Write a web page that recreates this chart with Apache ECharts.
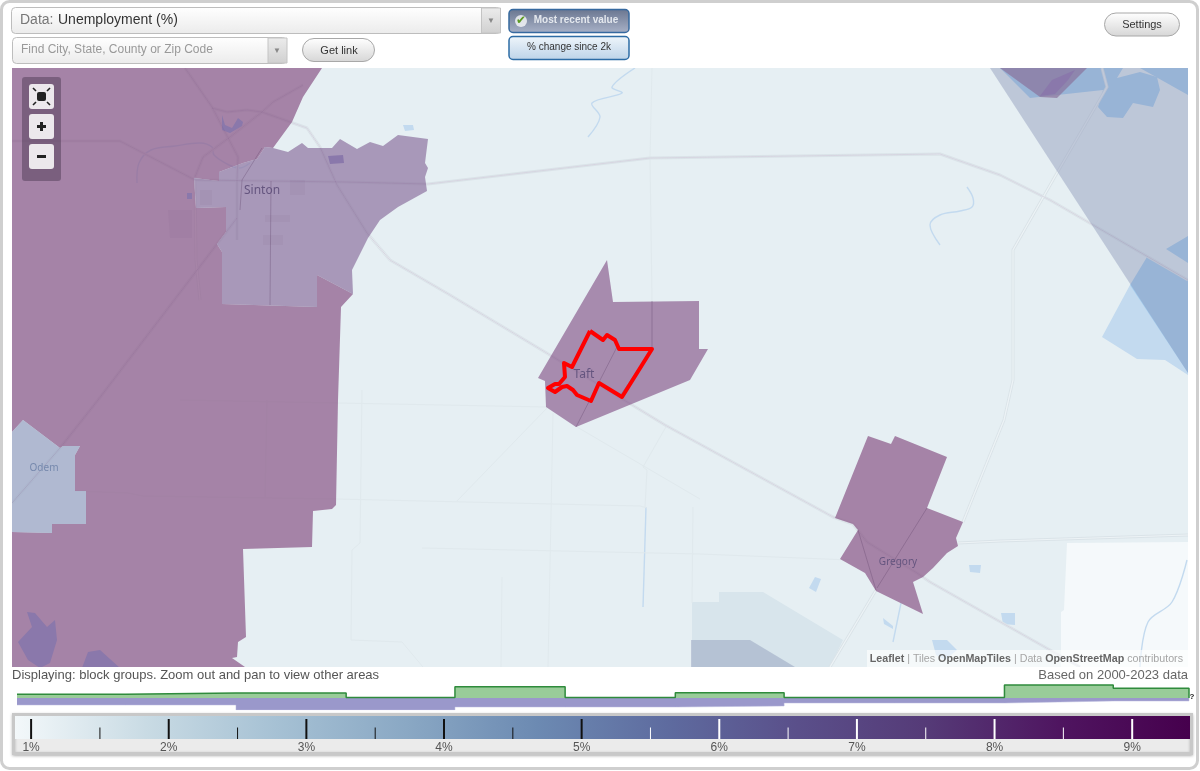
<!DOCTYPE html>
<html><head><meta charset="utf-8">
<style>html,body{margin:0;padding:0;background:#fff;overflow:hidden}#c{width:1200px;height:771px}</style>
<script src="https://cdn.jsdelivr.net/npm/echarts@6/dist/echarts.min.js"></script>
</head><body><div id="c"></div>
<script>
// ---------- values: histogram + colour scale ----------
const binEdges = [0.90,1.69,2.49,3.29,4.08,4.88,5.68,6.47,7.27,8.07,8.86,9.41];
const areaShare = [3.7,5,5,0.6,11.3,0.6,5.3,0.6,0.6,13,9.7];
const populationShare = [7,7,12,12,9,9,8,5,5,3,3];
const majorTicks = [1,2,3,4,5,6,7,8,9];
const minorTicks = [1.5,2.5,3.5,4.5,5.5,6.5,7.5,8.5];
const rampColors = ['#f3f8fa','#c9dbe4','#a6c1d4','#8aa8c4','#6c8ab2','#5e6b9f','#5a4f8a','#553a77','#4f1560','#46004d'];
const placeNames = ['Sinton','Taft','Gregory','Odem'];
const placePoints = [[262,191],[584,375],[898,562],[44,468]];

// ---------- map geometry, in map units ----------
const paleTract = [[1067,543],[1188,542],[1188,667],[1061,667],[1061,612],[1064,610]];
const coastPale = [[692,602],[719,602],[719,592],[763,592],[843,640],[830,667],[692,667]];
const lightBay = [[1130,285],[1102,337],[1137,359],[1165,360],[1188,375],[1188,330]];
const waterA = [[1000,68],[1030,98],[1103,90],[1098,107],[1107,117],[1123,118],[1133,103],[1153,107],[1160,90],[1157,77],[1140,72],[1117,78],[1123,68]];
const waterB = [[1140,68],[1188,95],[1188,68]];
const waterC = [[1147,257],[1188,279],[1188,373],[1130,285]];
const waterD = [[1166,249],[1188,236],[1188,263]];
const pond1 = [[403,125],[413,125],[414,130],[405,131]];
const pond2 = [[969,565],[981,565],[980,573],[970,572]];
const pond3 = [[1001,613],[1015,613],[1015,625],[1003,624]];
const pond4 = [[809,588],[815,577],[821,579],[816,592]];
const pond5 = [[932,640],[947,640],[957,650],[945,660],[936,655]];
const pond6 = [[883,618],[893,626],[893,629],[884,624]];
const ponds = [pond1,pond2,pond3,pond4,pond5,pond6];
const river1 = [[137,183],[139,163],[151,150],[175,146],[200,143],[212,147],[214,155],[229,165],[240,168],[250,163]];
const river2 = [[635,68],[612,87],[622,93],[592,103],[600,117],[588,137]];
const river3 = [[967,187],[973,198],[972,207],[960,211],[940,215],[930,225],[940,245]];
const river4 = [[646,507],[643,607]];
const river5 = [[901,603],[893,642]];
const river6 = [[1187,560],[1172,602],[1148,622],[1140,667]];
const rivers = [river1,river2,river3,river4,river5,river6];
const road1 = [[12,141],[120,141],[195,180],[345,182],[428,184],[650,158],[940,154],[1000,175],[1050,200],[1188,280]];
const road2 = [[185,68],[212,107],[238,157],[237,180],[237,240]];
const road3 = [[195,177],[203,157],[230,137],[262,112],[273,102],[303,85]];
const road4 = [[212,108],[227,112],[247,110],[262,112],[307,128],[320,147],[337,185],[367,233],[390,260],[450,295],[550,355],[665,425],[833,517],[853,524],[867,542],[917,573],[930,582],[1050,650],[1080,667]];
const road5 = [[958,543],[1000,541],[1188,535]];
const road6 = [[1102,68],[1107,87],[1057,173],[1013,250],[1013,380],[1004,420],[963,522]];
const road7 = [[876,590],[830,667]];
const road8 = [[12,503],[60,448],[98,400],[217,244],[237,218]];
const road9 = [[195,180],[196,260],[200,300]];
const roads = [road1,road2,road3,road4,road5,road6,road7,road8,road9];
const line1 = [[75,491],[128,493],[143,496],[336,499],[640,506],[647,508]];
const line2 = [[267,400],[265,497]];
const line3 = [[180,400],[338,403],[547,407]];
const line4 = [[362,390],[360,543],[352,550],[351,640],[402,642],[423,667]];
const line5 = [[553,413],[548,667]];
const line6 = [[577,427],[700,499]];
const line7 = [[667,425],[643,467],[647,470],[645,507]];
const line8 = [[422,548],[700,554],[850,560]];
const line9 = [[502,577],[501,667]];
const line10 = [[547,408],[457,501]];
const line11 = [[693,507],[692,603]];
const line12 = [[652,68],[650,158],[652,300],[652,349]];
const faintLines = [line1,line2,line3,line4,line5,line6,line7,line8,line9,line10,line11,line12];
const westTract = [[12,68],[322,68],[303,97],[292,122],[273,148],[265,147],[257,159],[243,163],[219,172],[219,181],[194,178],[196,208],[226,207],[226,232],[217,244],[222,252],[222,304],[317,307],[317,275],[353,294],[341,307],[338,400],[336,505],[332,509],[313,511],[312,547],[243,549],[246,637],[238,642],[237,657],[232,658],[245,667],[12,667],[12,532],[52,533],[52,524],[86,524],[86,491],[75,491],[75,455],[80,446],[63,446],[60,448],[23,420],[12,432]];
const northeastTract = [[1000,68],[1040,97],[1057,98],[1087,68]];
const sintonTract = [[273,148],[288,152],[302,143],[308,148],[332,148],[340,139],[357,149],[370,142],[383,146],[398,135],[428,139],[425,163],[428,168],[425,177],[427,191],[398,207],[380,220],[368,238],[352,270],[353,294],[317,275],[317,307],[222,304],[222,252],[217,244],[226,232],[226,207],[196,208],[194,178],[219,181],[219,172],[243,163],[257,159],[265,147]];
const taftTract = [[607,260],[613,302],[699,301],[699,349],[708,349],[690,380],[576,427],[546,407],[545,381],[538,378]];
const gregoryTract = [[868,436],[891,444],[895,436],[947,457],[927,508],[963,522],[956,538],[958,546],[947,553],[933,568],[923,577],[913,582],[923,614],[876,591],[865,573],[840,559],[858,530],[853,524],[835,518]];
const odemTract = [[12,432],[23,420],[60,448],[63,446],[80,446],[75,455],[75,491],[86,491],[86,524],[52,524],[52,533],[12,532]];
const bayWedge = [[990,68],[1188,68],[1188,373]];
const coastWedge = [[691,640],[750,640],[795,667],[691,667]];
const tractEdge1 = [[652,301],[652,349],[620,396]];
const tractEdge2 = [[618,345],[576,427]];
const tractEdge3 = [[927,508],[877,588]];
const tractEdge4 = [[858,530],[876,590]];
const tractEdge6 = [[271,181],[270,305]];
const tractEdge7 = [[262,148],[242,180],[240,210]];
const tractEdges = [tractEdge1,tractEdge2,tractEdge3,tractEdge4,tractEdge6,tractEdge7];
const lake1 = [[27,612],[35,613],[47,627],[55,620],[57,640],[50,663],[40,668],[28,660],[18,642],[32,627]];
const lake2 = [[82,668],[88,652],[100,650],[120,668]];
const lake3 = [[222,115],[225,125],[232,128],[238,118],[243,122],[242,126],[230,133],[222,130]];
const lake4 = [[328,156],[343,155],[344,163],[330,164]];
const lake5 = [[1040,96],[1052,80],[1075,70],[1068,80],[1055,94]];
const lake6 = [[187,193],[192,193],[192,199],[187,199]];
const lakes = [lake1,lake2,lake3,lake4,lake5,lake6];
const patch1 = [[200,190],[212,190],[212,205],[200,205]];
const patch2 = [[168,210],[192,210],[192,238],[170,238]];
const patch3 = [[265,215],[290,215],[290,222],[265,222]];
const patch4 = [[263,235],[283,235],[283,245],[263,245]];
const patch5 = [[290,180],[305,180],[305,195],[290,195]];
const patches = [patch1,patch2,patch3,patch4,patch5];
const focusTract = [[590,331],[603,340],[607,335],[615,340],[619,349],[652,349],[622,397],[599,383],[591,401],[577,395],[573,390],[567,386],[562,387],[555,392],[548,388],[555,384],[559,384],[565,377],[564,363],[572,367],[590,331]];

// ---------- drawing helpers ----------
const MAP = {left:12, top:68, width:1176, height:599};
function fills(shapes, style, z){
  return {type:'custom', xAxisIndex:0, yAxisIndex:0, clip:true, silent:true, z:z, animation:false,
    data:shapes.map((_,i)=>[i]),
    renderItem:(p,api)=>({type:'polygon', shape:{points:shapes[p.dataIndex].map(c=>api.coord(c))}, style:style})};
}
function strokes(shapes, color, width, z, smooth){
  return {type:'custom', xAxisIndex:0, yAxisIndex:0, clip:true, silent:true, z:z, animation:false,
    data:shapes.map((_,i)=>[i]),
    renderItem:(p,api)=>({type:'polyline', shape:{points:shapes[p.dataIndex].map(c=>api.coord(c)), smooth:smooth||0},
      style:{stroke:color, lineWidth:width, fill:null, lineJoin:'round'}})};
}
function ticks(values, fromY, width, z){
  return {type:'custom', xAxisIndex:2, yAxisIndex:2, silent:true, z:z, animation:false,
    data:values.map(v=>[v]),
    renderItem:(p,api)=>{const v=api.value(0),a=api.coord([v,fromY]),b=api.coord([v,0]);
      return {type:'line', shape:{x1:a[0],y1:a[1],x2:b[0],y2:b[1]},
        style:{stroke:v>=5.5?'#ffffff':'#111111', lineWidth:width}};}};
}
function pill(x,y,w,h,r,top,bot,border,lw,z){
  return {type:'rect', z:z||1, shape:{x:x,y:y,width:w,height:h,r:r},
    style:{fill:new echarts.graphic.LinearGradient(0,0,0,1,[{offset:0,color:top},{offset:1,color:bot}]), stroke:border, lineWidth:lw||1}};
}
function label(x,y,text,font,fill,align,z,weight){
  return {type:'text', z:z||3, x:x, y:y, style:{text:text, fontFamily:'"Liberation Sans",Arial,sans-serif', fontSize:font, fill:fill, align:align||'left', verticalAlign:'middle', fontWeight:weight||'normal'}};
}
function nib(x1,y1,x2,y2){
  return {type:'line', z:22, shape:{x1:x1,y1:y1,x2:x2,y2:y2}, style:{stroke:'#222',lineWidth:1.6}};
}
const rampStops = rampColors.map((c,i)=>({offset:i/(rampColors.length-1),color:c}));

const chrome = [
  {type:'rect', z:0, shape:{x:1.5,y:1.5,width:1196,height:767,r:8}, style:{fill:'#fff',stroke:'#cfcfcf',lineWidth:3}},
  pill(11.5,7.5,489,26,4,'#ffffff','#ebebeb','#bdbdbd'),
  pill(481.5,8,19,25,0,'#ececec','#d0d0d0','#c4c4c4'),
  label(20,20,'Data:',14,'#777'), label(58,20,'Unemployment (%)',14,'#333'),
  label(491,21,'▼',8,'#888','center'),
  pill(12.5,37.5,274,26,4,'#ffffff','#ebebeb','#bdbdbd'),
  pill(268,38,19,25,0,'#ececec','#d0d0d0','#c4c4c4'),
  label(21,50,'Find City, State, County or Zip Code',12,'#999'),
  label(277,51,'▼',8,'#888','center'),
  pill(302.5,38.5,72,23,11.5,'#ffffff','#d6d6d6','#a8a8a8'),
  label(339,51,'Get link',11,'#333','center'),
  pill(509,9.5,120,23,4,'#69758f','#a9b2c8','#36699f',1.5),
  label(576,20,'Most recent value',10,'#e4e8ee','center',3,'bold'),
  {type:'circle', z:3, shape:{cx:521,cy:21,r:6}, style:{fill:'rgba(255,255,255,0.75)'}},
  label(521,21,'✔',12,'#5c9a22','center',4),
  pill(509,36.5,120,23,4,'#f0f6fb','#bcd3e8','#2d6ca5',1.5),
  label(569,47,'% change since 2k',10,'#333','center'),
  pill(1104.5,13,75,23,11.5,'#ffffff','#d6d6d6','#a8a8a8'),
  label(1142,25,'Settings',11,'#333','center'),
  {type:'rect', z:20, shape:{x:22,y:77,width:39,height:104,r:3}, style:{fill:'rgba(80,60,85,0.5)'}},
  {type:'rect', z:21, shape:{x:29,y:84,width:25,height:25,r:3}, style:{fill:'#ece8ec'}},
  {type:'rect', z:21, shape:{x:29,y:114,width:25,height:25,r:3}, style:{fill:'#ece8ec'}},
  {type:'rect', z:21, shape:{x:29,y:144,width:25,height:25,r:3}, style:{fill:'#ece8ec'}},
  {type:'rect', z:22, shape:{x:37,y:92,width:9,height:9,r:2}, style:{fill:'#222'}},
  nib(33,88,36,91), nib(50,88,47,91), nib(33,105,36,102), nib(50,105,47,102),
  {type:'rect', z:22, shape:{x:37,y:125,width:9,height:3}, style:{fill:'#222'}},
  {type:'rect', z:22, shape:{x:40,y:122,width:3,height:9}, style:{fill:'#222'}},
  {type:'rect', z:22, shape:{x:37,y:155,width:9,height:3}, style:{fill:'#222'}},
  {type:'rect', z:20, shape:{x:867,y:650,width:321,height:17}, style:{fill:'rgba(255,255,255,0.6)'}},
  {type:'text', z:21, x:1183, y:659, style:{align:'right', verticalAlign:'middle', fontFamily:'"Liberation Sans",Arial,sans-serif', fontSize:10.7,
    text:'{d|Leaflet} {g|| Tiles} {d|OpenMapTiles} {g|| Data} {d|OpenStreetMap} {g|contributors}',
    rich:{d:{fill:'#666',fontWeight:'bold',fontSize:10.7,fontFamily:'"Liberation Sans",Arial,sans-serif'},g:{fill:'#a5a5a5',fontSize:10.7,fontFamily:'"Liberation Sans",Arial,sans-serif'}}}},
  label(12,675,'Displaying: block groups. Zoom out and pan to view other areas',13,'#555'),
  label(1188,675,'Based on 2000-2023 data',13,'#666','right'),
  label(1192,697,'?',8,'#222','center',3,'bold'),
  {type:'rect', z:1, shape:{x:13.5,y:714.5,width:1178,height:39}, style:{fill:'#ebebeb',stroke:'#c8c8c8',lineWidth:3,shadowBlur:3,shadowColor:'rgba(0,0,0,0.25)',shadowOffsetY:1}}
];

const chart = echarts.init(document.getElementById('c'), null, {renderer:'canvas'});
chart.setOption({
  animation:false,
  backgroundColor:'#fff',
  grid:[
    {left:MAP.left, top:MAP.top, width:MAP.width, height:MAP.height, backgroundColor:'#e6eff3', show:true, borderWidth:0, z:1},
    {left:17, top:684, width:1172, height:26, z:1},
    {left:15, top:716, width:1175, height:23, z:2}
  ],
  xAxis:[
    {gridIndex:0, type:'value', min:12, max:1188, show:false},
    {gridIndex:1, type:'value', min:0.9, max:9.41, show:false},
    {gridIndex:2, type:'value', min:0.883, max:9.42, z:30, axisLine:{show:false}, axisTick:{show:false}, splitLine:{show:false},
      axisLabel:{customValues:majorTicks, formatter:'{value}%', fontFamily:'"Liberation Sans",Arial,sans-serif', fontSize:12, color:'#555', margin:3, showMinLabel:true, showMaxLabel:true}}
  ],
  yAxis:[
    {gridIndex:0, type:'value', min:68, max:667, inverse:true, show:false},
    {gridIndex:1, type:'value', min:-12, max:14, show:false},
    {gridIndex:2, type:'value', min:0, max:1, show:false}
  ],
  graphic:{elements:chrome},
  series:[
    fills([paleTract],{fill:'#f5f9fb'},2),
    fills([coastPale],{fill:'#d8e5ec'},2),
    fills([lightBay,...ponds],{fill:'#c3daef'},3),
    fills([waterA,waterB,waterC,waterD],{fill:'#a3ccee'},3),
    strokes(rivers,'#c3daef',1.4,3,0.35),
    strokes(faintLines,'#e0e9ed',1,4),
    strokes(roads,'#dae3e8',3,4),
    strokes(roads,'#edf3f6',1.2,5),
    fills([westTract,northeastTract],{fill:'rgba(137,86,134,0.7)'},6),
    fills([sintonTract],{fill:'rgba(141,115,160,0.7)'},6),
    fills([taftTract],{fill:'rgba(137,92,142,0.68)'},6),
    fills([gregoryTract],{fill:'rgba(137,86,134,0.7)'},6),
    fills([odemTract],{fill:'rgba(153,162,194,0.7)'},6),
    fills([bayWedge,coastWedge],{fill:'rgba(140,150,185,0.45)'},6),
    fills(patches,{fill:'rgba(110,90,130,0.07)'},7),
    fills(lakes,{fill:'#8a78ab'},7),
    strokes(tractEdges,'rgba(90,60,100,0.3)',1,7),
    strokes([road1,road4,road8,road2,road3],'rgba(110,80,125,0.18)',1,7),
    strokes([focusTract],'#ff0000',4,8),
    {type:'custom', xAxisIndex:0, yAxisIndex:0, silent:true, z:9, animation:false,
      data:placePoints.map((c,i)=>[c[0],c[1],i]),
      renderItem:(p,api)=>{const q=api.coord([api.value(0),api.value(1)]),i=api.value(2);
        return {type:'text', x:q[0], y:q[1], style:{text:placeNames[i], align:'center', verticalAlign:'middle',
          fontFamily:'"Noto Sans",sans-serif', fontSize:i<2?12:10, fill:i===3?'#7689ad':'#65557f'}};}},
    {type:'line', xAxisIndex:1, yAxisIndex:1, step:'end', showSymbol:false, silent:true, z:3, animation:false,
      data:populationShare.map((v,i)=>[binEdges[i],-v]).concat([[binEdges[11],0]]),
      lineStyle:{width:0.5,color:'#b9b8dc'}, areaStyle:{color:'#9a98cb',opacity:1}},
    {type:'line', xAxisIndex:1, yAxisIndex:1, step:'end', showSymbol:false, silent:true, z:4, animation:false,
      data:areaShare.map((v,i)=>[binEdges[i],v]).concat([[binEdges[11],0]]),
      lineStyle:{width:1.5,color:'#2f8b3c'}, areaStyle:{color:'#99cc99',opacity:1}},
    {type:'custom', xAxisIndex:2, yAxisIndex:2, silent:true, z:3, animation:false, clip:true,
      data:[[0.883,1,9.42,0]],
      renderItem:(p,api)=>{const a=api.coord([api.value(0),api.value(1)]),b=api.coord([api.value(2),api.value(3)]);
        return {type:'rect', shape:{x:a[0],y:a[1],width:b[0]-a[0],height:b[1]-a[1]},
          style:{fill:new echarts.graphic.LinearGradient(0,0,1,0,rampStops)}};}},
    ticks(majorTicks,0.87,2,4),
    ticks(minorTicks,0.5,1,4)
  ]
});
</script></body></html>
